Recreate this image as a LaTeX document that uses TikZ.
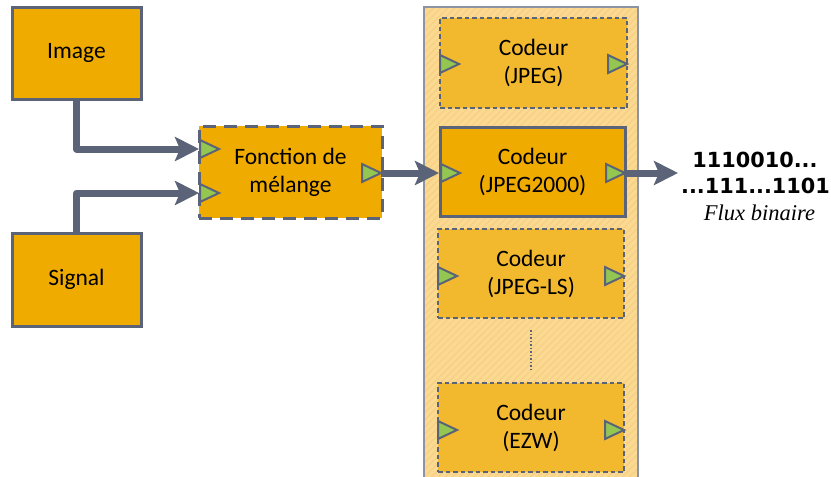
\documentclass[tikz,border=0pt]{standalone}
\usepackage{fontspec}
\setmainfont{Carlito}
\newfontfamily\bitsfont{DejaVu Sans}
\newfontfamily\serifit{Liberation Serif}
\usetikzlibrary{arrows.meta,patterns.meta}
\definecolor{boxfill}{HTML}{F0AB00}
\definecolor{lightbox}{HTML}{F2B92E}
\definecolor{panelfill}{HTML}{FBD991}
\definecolor{hatchcol}{HTML}{F6CE84}
\definecolor{edgecol}{HTML}{5B6378}
\definecolor{paneledge}{HTML}{8C93A3}
\definecolor{portgreen}{HTML}{94C652}
\newcommand\myport[1]{\draw[port] (#1) ++(0,-9) -- ++(19,9) -- ++(-19,9) -- cycle;}
\begin{document}
\begin{tikzpicture}[x=1pt,y=-1pt,
  box/.style={draw=edgecol, line width=3pt, fill=boxfill, inner sep=0pt, align=center,
    font=\fontsize{23.5}{28}\selectfont},
  mixbox/.style={box, dash pattern=on 13pt off 8pt},
  codbox/.style={box, fill=lightbox, line width=2.5pt, dash pattern=on 4.5pt off 3pt},
  port/.style={draw=edgecol, line width=2pt, fill=portgreen, line join=miter},
  conn/.style={draw=edgecol, line width=7pt, line join=round,
    -{Stealth[length=24pt,width=24pt,inset=5pt]}},
  bits/.style={font=\bitsfont\bfseries\fontsize{20.8}{24}\selectfont, anchor=base, inner sep=0pt},
]
\useasboundingbox (0,0) rectangle (831,477);
% panel
\fill[panelfill] (424,7) rectangle (638,477);
\fill[pattern={Lines[angle=45,distance=5pt,line width=1pt]}, pattern color=hatchcol] (424,7) rectangle (638,477);
\draw[paneledge, line width=2pt] (424,477) -- (424,7) -- (638,7) -- (638,477);

% coordinates
\coordinate (mixin1) at (199,149);
\coordinate (mixin2) at (199,193);
\coordinate (mixout) at (381,173);
\coordinate (c2in) at (439,173);
\coordinate (c2out) at (625,173);
\coordinate (outend) at (678,173);
\coordinate (dotA) at (531,330);
\coordinate (dotB) at (531,372);

% boxes
\node[box, minimum width=129pt, minimum height=92pt] (img) at (76.5,53) {Image};
\node[box, minimum width=129pt, minimum height=93pt] (sig) at (76.5,279.5) {Signal};

% connectors
\draw[conn] (img.south) |- (mixin1);
\draw[conn] (sig.north) |- (mixin2);

\node[mixbox, minimum width=183pt, minimum height=92pt] (mix) at (290.5,172) {Fonction de\\m\'elange};
\node[codbox, minimum width=187pt, minimum height=90pt] (c1) at (533.5,63) {Codeur\\(JPEG)};
\node[box, minimum width=185pt, minimum height=89pt] (c2) at (532.5,171.5) {Codeur\\(JPEG2000)};
\node[codbox, minimum width=186pt, minimum height=89pt] (c3) at (531,273.5) {Codeur\\(JPEG-LS)};
\node[codbox, minimum width=186pt, minimum height=89pt] (c4) at (531,427.5) {Codeur\\(EZW)};

\draw[conn] (mixout) -- (c2in);
\draw[conn] (c2out) -- (outend);

\draw[edgecol, line width=1.5pt, dash pattern=on 1.5pt off 2pt] (dotA) -- (dotB);

% ports
\coordinate (p1) at (200,149); \myport{p1}
\coordinate (p2) at (200,193); \myport{p2}
\coordinate (p3) at (362,173); \myport{p3}
\coordinate (p4) at (440,64);  \myport{p4}
\coordinate (p5) at (608,64);  \myport{p5}
\coordinate (p6) at (441,173); \myport{p6}
\coordinate (p7) at (606,173); \myport{p7}
\coordinate (p8) at (438,276); \myport{p8}
\coordinate (p9) at (605,276); \myport{p9}
\coordinate (p10) at (438,430); \myport{p10}
\coordinate (p11) at (605,430); \myport{p11}

% output text
\node[bits] (b1) at (755,167) {1110010...};
\node[bits] (b2) at (755.5,193) {...111...1101};
\node[font=\serifit\itshape\fontsize{22.5}{24}\selectfont, anchor=base, inner sep=0pt] (flux) at (759.5,220) {Flux binaire};
\end{tikzpicture}
\end{document}
